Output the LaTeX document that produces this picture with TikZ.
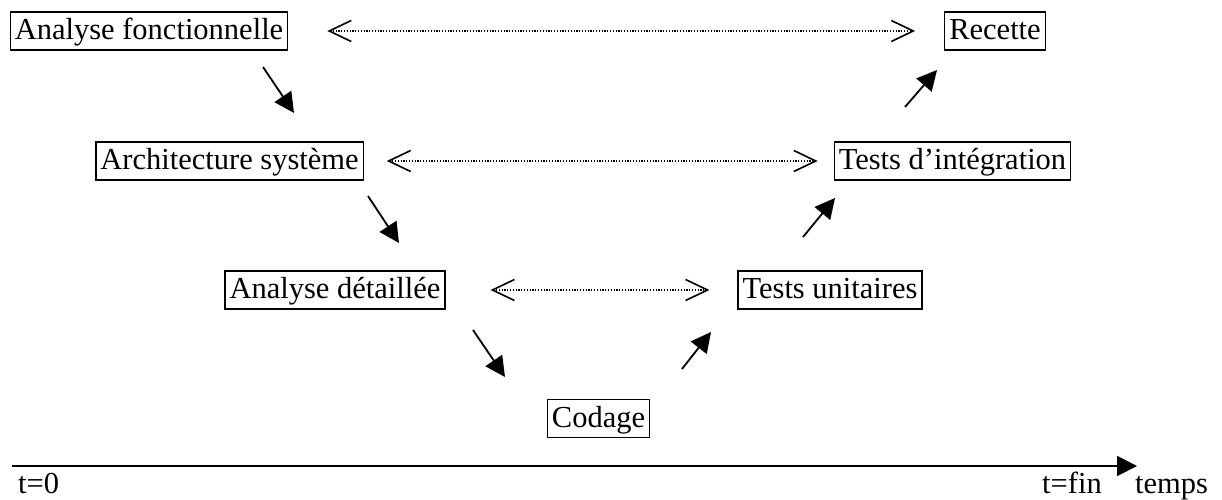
\documentclass[tikz,border=0pt]{standalone}
\usepackage{fontspec}
\setmainfont{Liberation Serif}
\usetikzlibrary{arrows.meta}

\begin{document}
\begin{tikzpicture}[x=1pt,y=1pt]
	\useasboundingbox (0,0) rectangle (1222,-500);
	\tikzstyle{phase}=[draw, line width=1.3pt, inner xsep=4.5pt, inner ysep=4.5pt, text height=23pt, text depth=6pt, font=\fontsize{30.5}{36}\selectfont]
	\tikzstyle{timetext}=[inner sep=0pt, font=\fontsize{30.5}{36}\selectfont]
	\tikzstyle{flow}=[line width=1.8pt, -{Triangle[length=20pt,width=20pt]}]
	\tikzstyle{check}=[line width=1.2pt, dash pattern=on 1.2pt off 1.6pt, {Straight Barb[length=22pt,width=21pt,line width=1.6pt]}-{Straight Barb[length=22pt,width=21pt,line width=1.6pt]}]
	\tikzstyle{timeline}=[line width=1.8pt, -{Triangle[length=20pt,width=20pt]}]
	% phases
	\draw (149,-31) node[phase] (af) {Analyse fonctionnelle};
	\draw (229.5,-161) node[phase] (arch) {Architecture système};
	\draw (335,-290) node[phase] (ad) {Analyse détaillée};
	\draw (598.5,-418.5) node[phase] (cod) {Codage};
	\draw (830,-290) node[phase] (tu) {Tests unitaires};
	\draw (952.5,-161) node[phase] (ti) {Tests d’intégration};
	\draw (995,-31) node[phase] (rec) {Recette};
	% arrow ends
	\coordinate (af-out) at (263,-67);   \coordinate (arch-in) at (294,-113);
	\coordinate (arch-out) at (368,-196); \coordinate (ad-in) at (399,-243);
	\coordinate (ad-out) at (473,-330);  \coordinate (cod-in) at (505,-377);
	\coordinate (cod-out) at (682,-369); \coordinate (tu-in) at (711,-332);
	\coordinate (tu-out) at (803,-237);  \coordinate (ti-in) at (835,-198);
	\coordinate (ti-out) at (905,-107);  \coordinate (rec-in) at (937,-70);
	\draw[flow] (af-out) -- (arch-in);
	\draw[flow] (arch-out) -- (ad-in);
	\draw[flow] (ad-out) -- (cod-in);
	\draw[flow] (cod-out) -- (tu-in);
	\draw[flow] (tu-out) -- (ti-in);
	\draw[flow] (ti-out) -- (rec-in);
	\draw[check, shorten <=39pt, shorten >=29pt] (af) -- (rec);
	\draw[check, shorten <=23pt, shorten >=16pt] (arch) -- (ti);
	\draw[check, shorten <=45pt, shorten >=28pt] (ad) -- (tu);
	% time axis
	\coordinate (t0) at (12,-466);
	\coordinate (tend) at (1137,-466);
	\draw[timeline] (t0) -- (tend);
	\draw (18,-493) node[timetext, anchor=base west] (tzero) {t=0};
	\draw (1042,-493) node[timetext, anchor=base west] (tfin) {t=fin};
	\draw (1135,-493) node[timetext, anchor=base west] (temps) {temps};
\end{tikzpicture}
\end{document}
